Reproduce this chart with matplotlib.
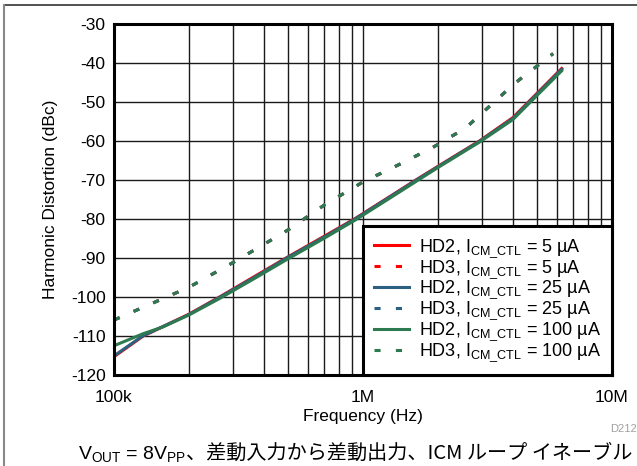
import numpy as np
import matplotlib
matplotlib.use("Agg")
import matplotlib.pyplot as plt
from matplotlib.lines import Line2D
from matplotlib.ticker import FixedLocator, NullFormatter

plt.rcParams['font.family'] = ['Liberation Sans', 'DejaVu Sans']
plt.rcParams['mathtext.fontset'] = 'custom'
plt.rcParams['mathtext.rm'] = 'Liberation Sans'
plt.rcParams['mathtext.it'] = 'Liberation Sans:italic'
plt.rcParams['mathtext.bf'] = 'Liberation Sans:bold'
plt.rcParams['axes.unicode_minus'] = False

# data
freq_hd2 = [100e3, 131e3, 157e3, 200e3, 267e3, 370e3, 494e3, 700e3, 929e3,
            1.3e6, 1.64e6, 2e6, 2.95e6, 4e6, 6.28e6]
hd2_5 = [-115.3, -110.0, -107.6, -104.4, -99.9, -94.6, -89.9, -84.4, -79.9,
         -74.0, -69.9, -66.5, -59.9, -54.0, -41.4]
hd2_25 = [-115.1, -109.9, -107.6, -104.5, -100.0, -94.8, -90.0, -84.6, -80.0,
          -74.1, -70.0, -66.6, -60.0, -54.2, -41.6]
hd2_100 = [-112.5, -109.4, -107.7, -104.6, -100.3, -95.1, -90.4, -84.9, -80.3,
           -74.4, -70.3, -66.8, -60.2, -54.5, -42.0]

freq_hd3 = [100e3, 200e3, 300e3, 400e3, 500e3, 700e3, 1e6, 1.4e6, 1.9e6,
            2.58e6, 3e6, 4.07e6, 5.8e6]
hd3_5 = [-105.9, -97.5, -91.2, -86.5, -82.8, -76.4, -70.5, -66.0, -61.7,
         -56.7, -52.9, -45.2, -37.6]
hd3_25 = [-105.9, -97.5, -91.2, -86.5, -82.8, -76.4, -70.5, -66.0, -61.7,
          -56.7, -52.9, -45.2, -37.6]
hd3_100 = [-105.9, -97.5, -91.2, -86.5, -82.8, -76.4, -70.5, -66.0, -61.7,
           -56.7, -52.9, -45.2, -37.6]

labels = [r"HD2, I$_{\mathregular{CM\_CTL}}$ = 5 µA",
          r"HD3, I$_{\mathregular{CM\_CTL}}$ = 5 µA",
          r"HD2, I$_{\mathregular{CM\_CTL}}$ = 25 µA",
          r"HD3, I$_{\mathregular{CM\_CTL}}$ = 25 µA",
          r"HD2, I$_{\mathregular{CM\_CTL}}$ = 100 µA",
          r"HD3, I$_{\mathregular{CM\_CTL}}$ = 100 µA"]

red = '#FF0000'
blue = '#2B6080'
green = '#2E7A50'
dash = (0, (2.0, 5.0))

fig = plt.figure(figsize=(6.37, 4.66), dpi=100)
ax = fig.add_axes([114 / 637, 91 / 466, 498 / 637, 351 / 466])

ax.plot(freq_hd2, hd2_5, color=red, lw=2.2, label=labels[0], zorder=3)
ax.plot(freq_hd3, hd3_5, color=red, lw=2.2, ls=dash, label=labels[1], zorder=3)
ax.plot(freq_hd2, hd2_25, color=blue, lw=2.2, label=labels[2], zorder=4)
ax.plot(freq_hd3, hd3_25, color=blue, lw=2.2, ls=dash, label=labels[3], zorder=4)
ax.plot(freq_hd2, hd2_100, color=green, lw=2.2, label=labels[4], zorder=5)
ax.plot(freq_hd3, hd3_100, color=green, lw=2.2, ls=dash, label=labels[5], zorder=5)

ax.set_xscale('log')
ax.set_xlim(1e5, 1e7)
ax.set_ylim(-120, -30)
ax.set_xticks([1e5, 1e6, 1e7])
ax.set_xticklabels(['100k', '1M', '10M'])
minors = [m * d for d in (1e5, 1e6) for m in range(2, 10)]
ax.xaxis.set_minor_locator(FixedLocator(minors))
ax.xaxis.set_minor_formatter(NullFormatter())
ax.set_yticks(np.arange(-120, -29, 10))
ax.tick_params(axis='both', which='both', length=0, labelsize=12.5)
ax.tick_params(axis='x', pad=11)
ax.tick_params(axis='y', pad=6)
ax.grid(True, which='both', color='#1a1a1a', lw=1.0)
ax.set_axisbelow(True)
for s in ax.spines.values():
    s.set_linewidth(2.2)
    s.set_color('black')
    s.set_zorder(6)

ax.set_xlabel('Frequency (Hz)', fontsize=12.5, labelpad=3)
ax.set_ylabel('Harmonic Distortion (dBc)', fontsize=12.5, labelpad=9)

leg = ax.legend(loc='lower right', bbox_to_anchor=(1.0, 0.0), borderaxespad=0,
                fontsize=13, fancybox=False, framealpha=1, edgecolor='black',
                handlelength=1.95, handletextpad=0.55, labelspacing=-0.08,
                borderpad=0.6)
leg.get_frame().set_linewidth(2.2)
leg.set_zorder(7)

# caption and figure id
cap = fig.text(78 / 637, 1 - 459 / 466, r"V$_{\mathregular{OUT}}$ = 8V$_{\mathregular{PP}}$",
               fontsize=14, va='baseline', ha='left')
ax.annotate("、差動入力から差動出力、ICM ループ イネーブル", xy=(1, 0), xycoords=cap,
            xytext=(0, 0), textcoords='offset points', va='bottom', ha='left',
            fontsize=14.5, family=['Noto Sans CJK JP', 'DejaVu Sans'],
            annotation_clip=False)
fig.text(610 / 637, 1 - 432 / 466, "D212", fontsize=8, color='#A0A0A0',
         va='baseline', ha='left')

# frame lines of the clipped page
fig.add_artist(Line2D([4 / 637, 1], [1 - 5 / 466, 1 - 5 / 466], color='#333333', lw=1.2))
fig.add_artist(Line2D([4 / 637, 4 / 637], [0, 1 - 5 / 466], color='#888888', lw=1.5))

fig.savefig('out.png', dpi=100)
